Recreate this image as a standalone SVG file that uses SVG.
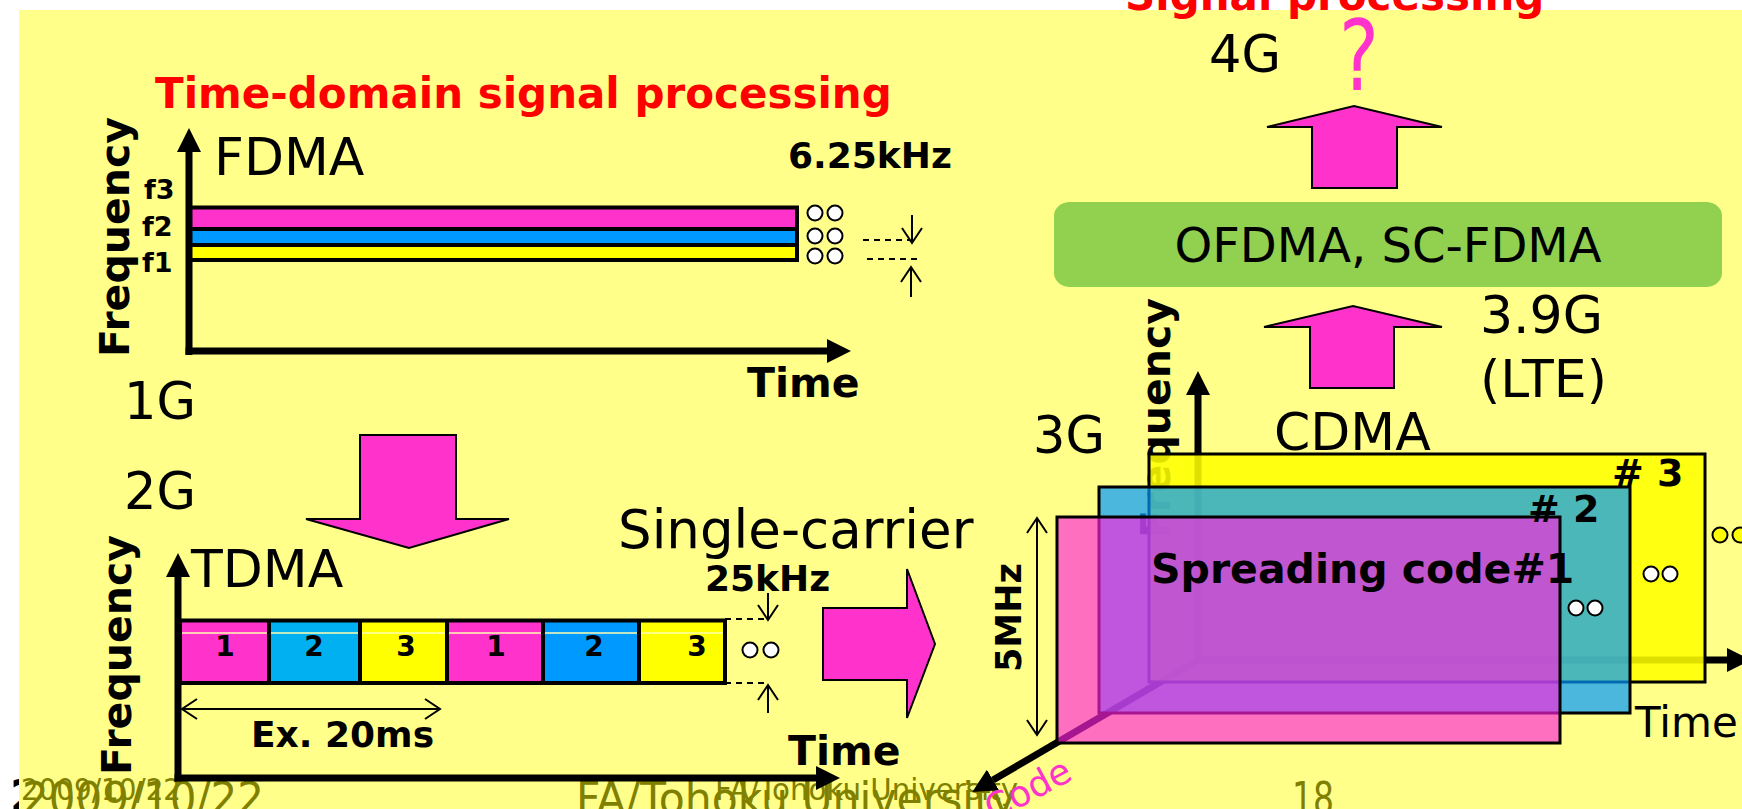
<svg xmlns="http://www.w3.org/2000/svg" width="1742" height="809" viewBox="0 0 1742 809">
<defs>
<style>
.t{font-family:'DejaVu Sans','Liberation Sans',sans-serif;fill:#000}
.b{font-weight:bold}
.red{fill:#FF0000}
.pk{fill:#FF33CC}
.foot{font-family:'DejaVu Sans','Liberation Sans',sans-serif;fill:#808000}
.blk{fill:#FF33CC;stroke:#000;stroke-width:2;stroke-linejoin:miter}
.axis{stroke:#000;stroke-width:7;fill:none}
.thin{stroke:#000;stroke-width:2;fill:none}
.dash{stroke:#000;stroke-width:2;stroke-dasharray:6 5;fill:none}
.dot{fill:#fff;stroke:#000;stroke-width:2}
.ydot{fill:#FFFF00;stroke:#000;stroke-width:2}
.bar{stroke:#000;stroke-width:4}
</style>
<marker id="tri" markerUnits="userSpaceOnUse" markerWidth="24" markerHeight="24" viewBox="0 0 24 24" refX="0" refY="12" orient="auto"><path d="M0,0 L24,12 L0,24 z" fill="#000"/></marker>
<marker id="vee" markerUnits="userSpaceOnUse" markerWidth="18" markerHeight="24" viewBox="0 0 18 24" refX="16" refY="12" orient="auto-start-reverse"><path d="M1,2 L16,12 L1,22" fill="none" stroke="#000" stroke-width="2"/></marker>
<clipPath id="leftMargin"><rect x="0" y="0" width="19" height="809"/></clipPath>
</defs>

<rect x="0" y="0" width="1742" height="809" fill="#FFFFFF"/>
<text class="t b" x="10" y="812" font-size="44" clip-path="url(#leftMargin)">2</text>
<rect x="19" y="10" width="1723" height="799" fill="#FFFF89"/>

<g id="footer">
<text class="foot" x="22" y="814" font-size="44" textLength="242" lengthAdjust="spacingAndGlyphs">2009/10/22</text>
<text class="foot" x="21" y="800" font-size="30" textLength="160" lengthAdjust="spacingAndGlyphs">2009/10/22</text>
<text class="foot" x="576" y="814" font-size="44" textLength="440" lengthAdjust="spacingAndGlyphs">FA/Tohoku University</text>
<text class="foot" x="715" y="800" font-size="30" textLength="303" lengthAdjust="spacingAndGlyphs">FA/Tohoku University</text>
<text class="foot" x="1292" y="814" font-size="44" textLength="42" lengthAdjust="spacingAndGlyphs">18</text>
</g>

<g id="titles">
<text class="t b red" x="155" y="108" font-size="42">Time-domain signal processing</text>
<text class="t b red" x="1125" y="10" font-size="42">Signal processing</text>
</g>

<g id="fdma">
<text class="t" x="214" y="175" font-size="52">FDMA</text>
<text class="t b" transform="translate(129,357) rotate(-90)" font-size="41">Frequency</text>
<text class="t b" x="144" y="199" font-size="27">f3</text>
<text class="t b" x="142" y="236" font-size="27">f2</text>
<text class="t b" x="142" y="272" font-size="27">f1</text>
<rect class="bar" x="190" y="207.5" width="607" height="21.5" fill="#FF33CC"/>
<rect class="bar" x="190" y="229" width="607" height="16" fill="#0099FF"/>
<rect class="bar" x="190" y="245" width="607" height="15" fill="#FFFF00"/>
<line class="axis" x1="189" y1="355" x2="189" y2="152" marker-end="url(#tri)"/>
<line class="axis" x1="185.5" y1="351" x2="827" y2="351" marker-end="url(#tri)"/>
<circle class="dot" cx="815" cy="213" r="7.5"/><circle class="dot" cx="835" cy="213" r="7.5"/>
<circle class="dot" cx="815" cy="236" r="7.5"/><circle class="dot" cx="835" cy="236" r="7.5"/>
<circle class="dot" cx="815" cy="256" r="7.5"/><circle class="dot" cx="835" cy="256" r="7.5"/>
<text class="t b" x="788" y="168" font-size="36">6.25kHz</text>
<line class="dash" x1="863" y1="240" x2="910" y2="240"/>
<line class="dash" x1="867" y1="259" x2="917" y2="259"/>
<line class="thin" x1="912" y1="215" x2="912" y2="243" marker-end="url(#vee)"/>
<line class="thin" x1="911" y1="297" x2="911" y2="267" marker-end="url(#vee)"/>
<text class="t b" x="747" y="397" font-size="41">Time</text>
<text class="t" x="124" y="419" font-size="51">1G</text>
</g>

<g id="tdma">
<text class="t" x="124" y="509" font-size="51">2G</text>
<text class="t" x="191" y="587" font-size="52">TDMA</text>
<text class="t b" transform="translate(131,775) rotate(-90)" font-size="41">Frequency</text>
<rect x="182" y="620.5" width="87" height="62.5" fill="#FF33CC"/>
<rect x="269" y="620.5" width="91" height="62.5" fill="#00B0F0"/>
<rect x="360" y="620.5" width="87" height="62.5" fill="#FFFF00"/>
<rect x="447" y="620.5" width="96" height="62.5" fill="#FF33CC"/>
<rect x="543" y="620.5" width="96" height="62.5" fill="#0099FF"/>
<rect x="639" y="620.5" width="86" height="62.5" fill="#FFFF00"/>
<line x1="182" y1="633" x2="725" y2="633" stroke="#FFFFB0" stroke-width="1.5"/>
<rect x="180" y="620.5" width="545" height="62.5" fill="none" class="bar"/>
<line class="bar" x1="269" y1="620.5" x2="269" y2="683"/>
<line class="bar" x1="360" y1="620.5" x2="360" y2="683"/>
<line class="bar" x1="447" y1="620.5" x2="447" y2="683"/>
<line class="bar" x1="543" y1="620.5" x2="543" y2="683"/>
<line class="bar" x1="639" y1="620.5" x2="639" y2="683"/>
<text class="t b" x="225" y="656" font-size="28" text-anchor="middle">1</text>
<text class="t b" x="314" y="656" font-size="28" text-anchor="middle">2</text>
<text class="t b" x="406" y="656" font-size="28" text-anchor="middle">3</text>
<text class="t b" x="496" y="656" font-size="28" text-anchor="middle">1</text>
<text class="t b" x="594" y="656" font-size="28" text-anchor="middle">2</text>
<text class="t b" x="697" y="656" font-size="28" text-anchor="middle">3</text>
<line class="axis" x1="178" y1="781.5" x2="178" y2="577" marker-end="url(#tri)"/>
<line class="axis" x1="174.5" y1="778" x2="816" y2="778" marker-end="url(#tri)"/>
<line class="thin" x1="182" y1="709" x2="440" y2="709" marker-start="url(#vee)" marker-end="url(#vee)"/>
<text class="t b" x="251" y="747" font-size="36">Ex. 20ms</text>
<circle class="dot" cx="750" cy="650" r="7.5"/><circle class="dot" cx="771" cy="650" r="7.5"/>
<line class="dash" x1="725" y1="619" x2="767" y2="619"/>
<line class="dash" x1="725" y1="683" x2="767" y2="683"/>
<line class="thin" x1="768" y1="593" x2="768" y2="620" marker-end="url(#vee)"/>
<line class="thin" x1="768" y1="713" x2="768" y2="685" marker-end="url(#vee)"/>
<text class="t b" x="705" y="591" font-size="36">25kHz</text>
<text class="t" x="618" y="548" font-size="53">Single-carrier</text>
<text class="t b" x="788" y="765" font-size="41">Time</text>
</g>

<g id="connectors">
<polygon class="blk" points="360,435 456,435 456,519 509,519 409,548 306,519 360,519"/>
<polygon class="blk" points="823,608 907,608 907,569 935,644 907,718 907,680 823,680"/>
<polygon class="blk" points="1310,388 1310,327 1264,327 1353,306 1442,327 1394,327 1394,388"/>
<polygon class="blk" points="1312,188 1312,127 1267,127 1354,106 1442,127 1397,127 1397,188"/>
</g>

<g id="lte">
<rect x="1054" y="202" width="668" height="85" rx="16" ry="14" fill="#92D050"/>
<text class="t" x="1388" y="262" font-size="48" text-anchor="middle">OFDMA, SC-FDMA</text>
<text class="t" x="1480" y="333" font-size="52">3.9G</text>
<text class="t" x="1480" y="397" font-size="52">(LTE)</text>
</g>

<g id="g4">
<text class="t" x="1209" y="72" font-size="51">4G</text>
<text class="t pk" x="1339" y="90" font-size="98" textLength="40" lengthAdjust="spacingAndGlyphs">?</text>
</g>

<g id="cdma">
<text class="t" x="1033" y="453" font-size="51">3G</text>
<text class="t" x="1274" y="450" font-size="52">CDMA</text>
<text class="t b" transform="translate(1170,298) rotate(-90)" font-size="41" text-anchor="end">Frequency</text>
<line class="axis" x1="1198" y1="663" x2="1198" y2="395" marker-end="url(#tri)"/>
<line class="axis" x1="1195" y1="660" x2="1727" y2="660" marker-end="url(#tri)"/>
<line class="axis" x1="1198" y1="660" x2="993" y2="780" marker-end="url(#tri)"/>
<rect x="1149" y="454" width="556" height="228" fill="#FFFF00" fill-opacity="0.88" stroke="#000" stroke-width="3"/>
<rect x="1099" y="487" width="531" height="226" fill="#0099FF" fill-opacity="0.7" stroke="#000" stroke-width="3"/>
<rect x="1057" y="517" width="503" height="226" fill="#FF22DD" fill-opacity="0.65" stroke="#000" stroke-width="3"/>
<text class="t b" x="1612" y="486" font-size="38"># 3</text>
<text class="t b" x="1528" y="522" font-size="38"># 2</text>
<text class="t b" x="1151" y="583" font-size="41">Spreading code#1</text>
<circle class="dot" cx="1576" cy="608" r="7.5"/><circle class="dot" cx="1595" cy="608" r="7.5"/>
<circle class="dot" cx="1651" cy="574" r="7.5"/><circle class="dot" cx="1670" cy="574" r="7.5"/>
<circle class="ydot" cx="1720" cy="535" r="7.5"/><circle class="ydot" cx="1740" cy="535" r="7.5"/>
<text class="t" x="1635" y="737" font-size="42">Time</text>
<line class="thin" x1="1037" y1="518" x2="1037" y2="735" marker-start="url(#vee)" marker-end="url(#vee)"/>
<text class="t b" transform="translate(1021,672) rotate(-90)" font-size="35">5MHz</text>
<text class="t pk" transform="translate(993,822) rotate(-28)" font-size="36">Code</text>
</g>
</svg>
